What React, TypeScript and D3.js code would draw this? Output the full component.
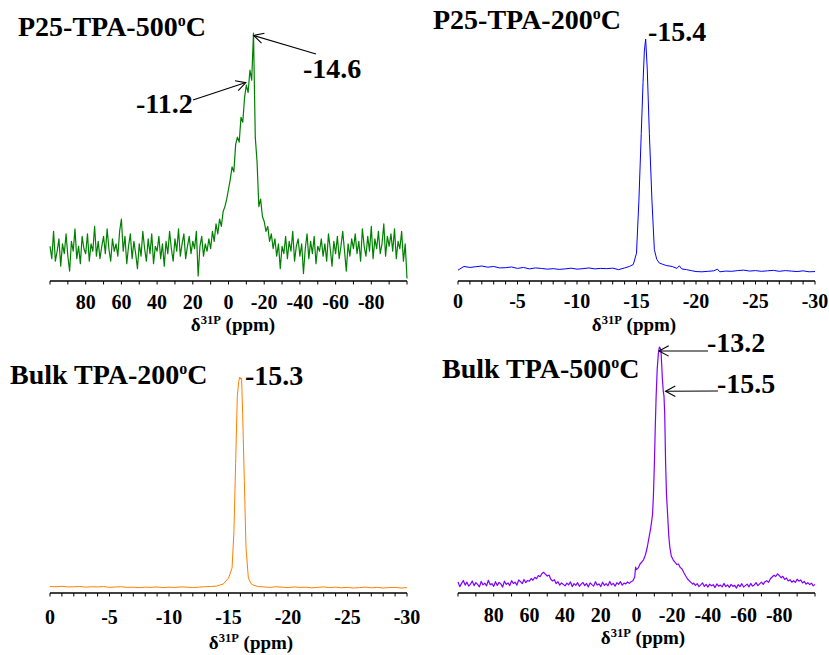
import React from "react";
import * as d3 from "d3";

// ---------- DATA ----------
// P25-TPA-500ºC : intensities from +100 ppm down to -100 ppm, 1 ppm apart
const p25_500_startPpm = 100;
const p25_500_stepPpm = -1;
const p25_500 = [
  14, 9, 20, 8, 12, 17, 6, 15, 11, 19,
  10, 4, 16, 12, 21, 9, 14, 7, 18, 13,
  11, 19, 8, 15, 12, 22, 10, 16, 9, 14,
  18, 11, 21, 13, 8, 17, 12, 15, 10, 20,
  25, 12, 18, 7, 14, 19, 9, 16, 11, 5,
  15, 10, 20, 13, 8, 17, 11, 19, 7, 14,
  12, 18, 9, 15, 6, 16, 11, 20, 13, 8,
  17, 12, 21, 10, 15, 19, 9, 14, 18, 11,
  16, 13, 20, 2, 14, 18, 10, 15, 12, 17,
  13, 20, 16, 23, 19, 25, 22, 28, 30, 33,
  37, 41, 46, 44, 55, 58, 56, 66, 64, 74,
  79, 76, 85, 81, 100, 58, 48, 30, 33, 26,
  24, 20, 22, 16, 19, 13, 17, 10, 15, 5,
  14, 11, 18, 9, 16, 12, 20, 8, 14, 17,
  10, 15, 3, 13, 19, 9, 16, 11, 18, 7,
  14, 12, 17, 10, 15, 8, 19, 13, 6, 16,
  11, 18, 9, 14, 20, 12, 4, 15, 10, 17,
  13, 19, 11, 16, 8, 21, 14, 10, 18, 12,
  22, 9, 17, 13, 20, 11, 15, 23, 10, 18,
  14, 19, 12, 21, 9, 16, 13, 20, 8, 15,
  1,
];

// P25-TPA-200ºC : [ppm, intensity]
const p25_200: [number, number][] = [
  [0, 4.5], [-0.5, 6.0], [-1, 5.6], [-1.5, 5.9], [-2, 6.2], [-2.5, 5.7], [-3, 6.0], [-3.5, 5.4],
  [-4, 5.5], [-4.5, 5.8], [-5, 5.2], [-5.5, 5.6], [-6, 5.0], [-6.5, 5.4], [-7, 5.2], [-7.5, 4.9],
  [-8, 5.1], [-8.5, 4.8], [-9, 5.0], [-9.5, 5.3], [-10, 4.9], [-10.5, 5.1], [-11, 5.4], [-11.5, 5.0],
  [-12, 5.2], [-12.5, 5.1], [-13, 5.3], [-13.5, 4.7], [-14, 5.4], [-14.4, 6.0],
  [-14.73, 6.8], [-15.0, 11.5], [-15.2, 33], [-15.4, 61], [-15.55, 82], [-15.66, 95], [-15.77, 100],
  [-15.9, 88], [-16.08, 61], [-16.3, 33], [-16.5, 13], [-16.7, 9], [-16.9, 7.5], [-17.2, 6.9],
  [-17.5, 6.4], [-18, 6.0], [-18.4, 5.2], [-18.6, 6.3], [-18.8, 5.0], [-19.2, 4.7], [-19.6, 4.3],
  [-20, 3.9], [-20.5, 3.8], [-21, 4.0], [-21.5, 4.2], [-21.8, 4.9], [-22, 3.8], [-22.5, 4.1],
  [-23, 4.0], [-23.5, 4.3], [-24, 4.5], [-24.5, 4.1], [-25, 4.3], [-25.5, 4.0], [-26, 4.2],
  [-26.5, 4.4], [-27, 4.0], [-27.5, 4.3], [-28, 4.1], [-28.5, 3.9], [-29, 4.2], [-29.5, 3.8], [-30, 3.9],
];

// Bulk TPA-200ºC : [ppm, intensity]
const bulk_200: [number, number][] = [
  [0, 3.0], [-0.5, 2.9], [-1, 3.1], [-1.5, 2.8], [-2, 2.9], [-2.5, 3.0], [-3, 2.7], [-3.5, 2.9],
  [-4, 2.8], [-4.5, 3.0], [-5, 2.6], [-5.5, 2.8], [-6, 2.9], [-6.5, 2.6], [-7, 2.7], [-7.5, 2.5],
  [-8, 2.7], [-8.5, 2.6], [-9, 2.8], [-9.5, 2.5], [-10, 2.7], [-10.5, 2.6], [-11, 2.8], [-11.5, 2.7],
  [-12, 2.5], [-12.5, 2.7], [-13, 2.9], [-13.5, 3.0], [-14, 3.2],
  [-14.57, 4.2], [-15.0, 6.9], [-15.3, 11.6], [-15.46, 29], [-15.6, 60], [-15.74, 91], [-15.86, 98],
  [-15.95, 100], [-16.02, 99], [-16.1, 99.5], [-16.19, 83], [-16.33, 52], [-16.47, 21], [-16.67, 6.9],
  [-16.9, 4.3], [-17.1, 3.6], [-17.5, 3.0], [-18, 2.8],
  [-18.5, 2.6], [-19, 2.9], [-19.5, 2.7], [-20, 2.5], [-20.5, 2.8], [-21, 2.6], [-21.5, 2.7],
  [-22, 2.4], [-22.5, 2.6], [-23, 2.8], [-23.5, 2.5], [-24, 2.7], [-24.5, 2.4], [-25, 2.6],
  [-25.5, 2.3], [-26, 2.5], [-26.5, 2.7], [-27, 2.4], [-27.5, 2.6], [-28, 2.3], [-28.5, 2.5],
  [-29, 2.6], [-29.5, 2.3], [-30, 2.5],
];

// Bulk TPA-500ºC : [ppm, intensity]
const bulk_500: [number, number][] = [
  [100, 4.5], [99, 2.6], [98, 3.9], [97, 5.1], [96, 3.2], [95, 4.4], [94, 2.8], [93, 3.6], [92, 4.9], [91, 3.0],
  [90, 4.2], [89, 3.5], [88, 2.5], [87, 4.7], [86, 3.3], [85, 4.0], [84, 2.9], [83, 5.2], [82, 3.4], [81, 3.8],
  [80, 2.7], [79, 4.6], [78, 3.1], [77, 4.3], [76, 3.7], [75, 2.4], [74, 4.8], [73, 3.5], [72, 4.1], [71, 3.0],
  [70, 5.0], [69, 3.9], [68, 4.4], [67, 3.2], [66, 5.3], [65, 4.6], [64, 3.8], [63, 5.5], [62, 4.2], [61, 5.1],
  [60, 4.8], [59, 5.9], [58, 5.2], [57, 6.4], [56, 5.8], [55, 7.1], [54, 6.6], [53, 7.9], [52, 8.4], [51, 7.6],
  [50, 6.9], [49, 7.3], [48, 5.6], [47, 4.9], [46, 5.4], [45, 3.8], [44, 4.6], [43, 3.2], [42, 4.1], [41, 3.5],
  [40, 2.9], [39, 4.0], [38, 3.3], [37, 4.5], [36, 2.6], [35, 3.8], [34, 3.1], [33, 4.2], [32, 2.7], [31, 3.6],
  [30, 4.3], [29, 3.0], [28, 3.9], [27, 2.5], [26, 4.1], [25, 3.4], [24, 2.8], [23, 4.6], [22, 3.2], [21, 3.7],
  [20, 2.6], [19, 4.4], [18, 3.1], [17, 3.8], [16, 2.9], [15, 4.7], [14, 3.3], [13, 3.9], [12, 2.8], [11, 4.2],
  [10, 3.5], [9, 4.6], [8, 3.2], [7, 4.0], [6, 3.7], [5, 4.5], [4, 3.9], [3, 4.6],
  [2, 5.0], [1, 6.5], [0.5, 10.5], [0, 9.5], [-1, 10.2], [-2, 11.8], [-3, 12.6], [-4, 13.6], [-5, 15.5],
  [-6, 18.5], [-7, 22.5], [-8, 26.5], [-9, 32], [-9.5, 40], [-10, 52], [-10.5, 67], [-11, 80], [-11.6, 91],
  [-12.2, 97], [-12.8, 100], [-13.3, 99.5], [-13.7, 98.5], [-14.1, 93], [-14.5, 87], [-15.0, 82], [-15.4, 80],
  [-15.8, 73], [-16.3, 53], [-16.8, 40], [-17.5, 31], [-18.1, 23], [-18.7, 18.5], [-19.5, 15], [-20.5, 13.5],
  [-21.5, 12.6], [-22.5, 11.6], [-23.5, 11.8], [-24.5, 10.4], [-25.5, 9.8], [-26.5, 8.3], [-27.5, 7.0],
  [-28.5, 5.8], [-29.5, 5.0], [-30.5, 4.3], [-31.5, 3.6],
  [-32, 4.0], [-33, 3.1], [-34, 3.8], [-35, 2.6], [-36, 3.3], [-37, 4.1], [-38, 2.7], [-39, 3.5], [-40, 2.4], [-41, 3.6],
  [-42, 2.9], [-43, 3.4], [-44, 2.2], [-45, 3.7], [-46, 2.8], [-47, 3.2], [-48, 2.5], [-49, 3.9], [-50, 2.6], [-51, 3.3],
  [-52, 2.3], [-53, 3.5], [-54, 2.7], [-55, 3.1], [-56, 2.0], [-57, 3.4], [-58, 2.6], [-59, 3.8], [-60, 2.4], [-61, 3.0],
  [-62, 3.6], [-63, 2.5], [-64, 3.9], [-65, 2.8], [-66, 3.3], [-67, 4.2], [-68, 3.0], [-69, 3.7], [-70, 4.4], [-71, 3.5],
  [-72, 4.6], [-73, 5.0], [-74, 4.3], [-75, 5.8], [-76, 6.5], [-77, 7.2], [-78, 6.7], [-79, 7.8], [-80, 7.1], [-81, 6.2],
  [-82, 6.8], [-83, 5.5], [-84, 6.1], [-85, 4.9], [-86, 5.4], [-87, 4.4], [-88, 5.0], [-89, 4.3], [-90, 5.6], [-91, 4.8],
  [-92, 5.3], [-93, 4.1], [-94, 4.7], [-95, 3.6], [-96, 4.2], [-97, 3.4], [-98, 4.0], [-99, 2.9], [-100, 3.5],
];

const wideDomain = [100, -100];
const narrowDomain = [0, -30];
const wideTickLabels = [80, 60, 40, 20, 0, -20, -40, -60, -80];
const narrowTickLabels = [0, -5, -10, -15, -20, -25, -30];

const FONT = "'Liberation Serif', 'Times New Roman', Times, serif";

type Arrow = { tail: [number, number]; tip: [number, number] }; // tip in data coords [ppm, value]
type Label = { text: string; x: number; y: number };

type PanelCfg = {
  data: [number, number][];
  color: string;
  lw: number;
  x0: number;
  x1: number;
  yAxis: number;
  yTop: number;
  domain: number[];
  minorCount: number;
  tickLabels: number[];
  tickLabelY: number;
  axisLabelX: number;
  axisLabelY: number;
  title: [string, string];
  titleX: number;
  titleY: number;
  labels: Label[];
  arrows: Arrow[];
};

const panels: PanelCfg[] = [
  {
    data: p25_500.map((v, i) => [p25_500_startPpm + i * p25_500_stepPpm, v] as [number, number]),
    color: "#008000",
    lw: 1.2,
    x0: 50,
    x1: 407,
    yAxis: 281,
    yTop: 33,
    domain: wideDomain,
    minorCount: 20,
    tickLabels: wideTickLabels,
    tickLabelY: 309,
    axisLabelX: 233,
    axisLabelY: 331,
    title: ["P25-TPA-500", "C"],
    titleX: 18,
    titleY: 36,
    labels: [
      { text: "-14.6", x: 303, y: 78 },
      { text: "-11.2", x: 136, y: 113 },
    ],
    arrows: [
      { tail: [316, 54], tip: [-14.1, 99] },
      { tail: [193, 100], tip: [-9.7, 80] },
    ],
  },
  {
    data: p25_200,
    color: "#0000ff",
    lw: 1,
    x0: 458,
    x1: 815,
    yAxis: 281,
    yTop: 39,
    domain: narrowDomain,
    minorCount: 30,
    tickLabels: narrowTickLabels,
    tickLabelY: 308,
    axisLabelX: 634,
    axisLabelY: 331,
    title: ["P25-TPA-200", "C"],
    titleX: 433,
    titleY: 29,
    labels: [{ text: "-15.4", x: 648, y: 41 }],
    arrows: [],
  },
  {
    data: bulk_200,
    color: "#ff8000",
    lw: 1,
    x0: 50,
    x1: 407,
    yAxis: 593,
    yTop: 377,
    domain: narrowDomain,
    minorCount: 30,
    tickLabels: narrowTickLabels,
    tickLabelY: 624,
    axisLabelX: 251,
    axisLabelY: 649,
    title: ["Bulk TPA-200", "C"],
    titleX: 10,
    titleY: 384,
    labels: [{ text: "-15.3", x: 245, y: 385 }],
    arrows: [],
  },
  {
    data: bulk_500,
    color: "#8000ff",
    lw: 1.2,
    x0: 458,
    x1: 815,
    yAxis: 593,
    yTop: 347,
    domain: wideDomain,
    minorCount: 20,
    tickLabels: wideTickLabels,
    tickLabelY: 622,
    axisLabelX: 643,
    axisLabelY: 644,
    title: ["Bulk TPA-500", "C"],
    titleX: 442,
    titleY: 378,
    labels: [
      { text: "-13.2", x: 707, y: 352 },
      { text: "-15.5", x: 717, y: 393 },
    ],
    arrows: [
      { tail: [708, 351], tip: [-12.6, 98.4] },
      { tail: [718, 391], tip: [-16.3, 82] },
    ],
  },
];

function ArrowMark({ x1, y1, x2, y2 }: { x1: number; y1: number; x2: number; y2: number }) {
  const ang = Math.atan2(y1 - y2, x1 - x2);
  const L = 11;
  const a = (28 * Math.PI) / 180;
  const h1: [number, number] = [x2 + L * Math.cos(ang + a), y2 + L * Math.sin(ang + a)];
  const h2: [number, number] = [x2 + L * Math.cos(ang - a), y2 + L * Math.sin(ang - a)];
  return (
    <g stroke="#000" strokeWidth={1.1} fill="none">
      <line x1={x1} y1={y1} x2={x2} y2={y2} />
      <path d={`M${h1[0]},${h1[1]} L${x2},${y2} L${h2[0]},${h2[1]}`} />
    </g>
  );
}

function Panel({ cfg }: { cfg: PanelCfg }) {
  const x = d3.scaleLinear().domain(cfg.domain).range([cfg.x0, cfg.x1]);
  const y = d3.scaleLinear().domain([0, 100]).range([cfg.yAxis, cfg.yTop]);
  const line = d3
    .line<[number, number]>()
    .x((d) => x(d[0]))
    .y((d) => y(d[1]));
  const minor = x.ticks(cfg.minorCount);
  return (
    <g>
      <path d={line(cfg.data) || ""} fill="none" stroke={cfg.color} strokeWidth={cfg.lw} strokeLinejoin="round" />
      <line x1={cfg.x0} x2={cfg.x1} y1={cfg.yAxis} y2={cfg.yAxis} stroke="#000" strokeWidth={1.4} />
      {minor.map((t) => (
        <line key={t} x1={x(t)} x2={x(t)} y1={cfg.yAxis} y2={cfg.yAxis + 3.5} stroke="#000" strokeWidth={1} />
      ))}
      {cfg.tickLabels.map((t) => (
        <text
          key={t}
          x={x(t)}
          y={cfg.tickLabelY}
          textAnchor="middle"
          fontFamily={FONT}
          fontWeight="bold"
          fontSize={20}
          fill="#000"
        >
          {String(t)}
        </text>
      ))}
      <text x={cfg.axisLabelX} y={cfg.axisLabelY} textAnchor="middle" fontFamily={FONT} fontWeight="bold" fontSize={19}>
        δ
        <tspan dy={-7} fontSize={12.5}>
          31P
        </tspan>
        <tspan dy={7}> (ppm)</tspan>
      </text>
      <text x={cfg.titleX} y={cfg.titleY} fontFamily={FONT} fontWeight="bold" fontSize={28} fill="#000">
        {cfg.title[0]}
        <tspan dy={-10} fontSize={16}>
          o
        </tspan>
        <tspan dy={10}>{cfg.title[1]}</tspan>
      </text>
      {cfg.labels.map((l) => (
        <text key={l.text} x={l.x} y={l.y} fontFamily={FONT} fontWeight="bold" fontSize={28} fill="#000">
          {l.text}
        </text>
      ))}
      {cfg.arrows.map((a, i) => (
        <ArrowMark key={i} x1={a.tail[0]} y1={a.tail[1]} x2={x(a.tip[0])} y2={y(a.tip[1])} />
      ))}
    </g>
  );
}

export default function App() {
  return (
    <svg
      width={829}
      height={655}
      viewBox="0 0 829 655"
      style={{ position: "absolute", left: 0, top: 0, background: "#fff" }}
    >
      <rect x={0} y={0} width={829} height={655} fill="#fff" />
      {panels.map((p, i) => (
        <Panel key={i} cfg={p} />
      ))}
    </svg>
  );
}
